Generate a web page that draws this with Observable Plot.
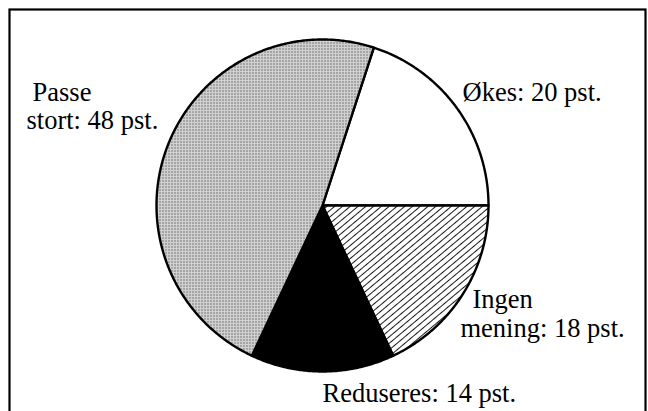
<!DOCTYPE html>
<html><head><meta charset="utf-8">
<script src="https://cdn.jsdelivr.net/npm/d3@7"></script>
<script src="https://cdn.jsdelivr.net/npm/@observablehq/plot@0.6"></script>
<style>html,body{margin:0;padding:0;background:#fff;} svg{display:block}</style>
</head><body><div id="chart"></div>
<script>
// ---- data ----
const categories = ["Økes", "Ingen mening", "Reduseres", "Passe stort"];
const shares = [20, 18, 14, 48];
const labelLines = [["Økes: 20 pst."], ["Ingen", "mening: 18 pst."], ["Reduseres: 14 pst."], ["Passe", "stort: 48 pst."]];

// ---- layout ----
const W = 648, H = 411, CX = 322, CY = 205, R = 166;
const fills = ["white", "url(#hatch)", "black", "url(#stipple)"];
const startAngle = Math.PI / 10;
// label line anchors: left edge / baseline, offset from pie centre in px
const labelOffsets = [[[140, -105]], [[150, 102], [138, 131]], [[0, 196]], [[-290, -105], [-296, -77]]];

const arcs = d3.pie().sort(null).startAngle(startAngle).endAngle(startAngle + 2 * Math.PI)(shares);

const sliceMarks = arcs.map((a, i) => {
  const n = Math.max(2, Math.ceil((a.endAngle - a.startAngle) / (Math.PI / 360)));
  const pts = [{x: 0, y: 0}];
  for (let k = 0; k <= n; k++) {
    const t = a.startAngle + (a.endAngle - a.startAngle) * k / n;
    pts.push({x: Math.sin(t), y: Math.cos(t)});
  }
  pts.push({x: 0, y: 0});
  return Plot.line(pts, {x: "x", y: "y", fill: fills[i], stroke: "black", strokeWidth: 2.4, strokeLinejoin: "round", title: () => categories[i] + ": " + shares[i] + " pst."});
});

const textRows = [];
labelLines.forEach((lines, i) => lines.forEach((t, j) => {
  const [dx, dy] = labelOffsets[i][j];
  textRows.push({text: t, x: dx / R, y: -dy / R});
}));

const svg = Plot.plot({
  width: W, height: H, margin: 0,
  x: {domain: [-CX / R, (W - CX) / R], axis: null},
  y: {domain: [-(H - CY) / R, CY / R], axis: null},
  style: {background: "white"},
  marks: [
    Plot.frame({stroke: "black", strokeWidth: 2.2, insetTop: 9, insetLeft: 9, insetRight: 3, insetBottom: -10}),
    ...sliceMarks,
    Plot.text(textRows, {x: "x", y: "y", text: "text", textAnchor: "start", lineAnchor: "bottom", fontSize: 26.5, fontFamily: "Liberation Serif", fill: "black"})
  ]
});

const defs = document.createElementNS("http://www.w3.org/2000/svg", "defs");
defs.innerHTML = `
<pattern id="hatch" width="5" height="5" patternUnits="userSpaceOnUse" patternTransform="rotate(-40)">
  <rect width="5" height="5" fill="white"/>
  <line x1="0" y1="2.5" x2="5" y2="2.5" stroke="black" stroke-width="0.9"/>
</pattern>
<pattern id="stipple" width="3" height="3" patternUnits="userSpaceOnUse">
  <rect width="3" height="3" fill="#d0d0d0"/>
  <rect width="1" height="1" fill="#222"/>
</pattern>`;
svg.insertBefore(defs, svg.firstChild);
document.getElementById("chart").appendChild(svg);
</script>
</body></html>
